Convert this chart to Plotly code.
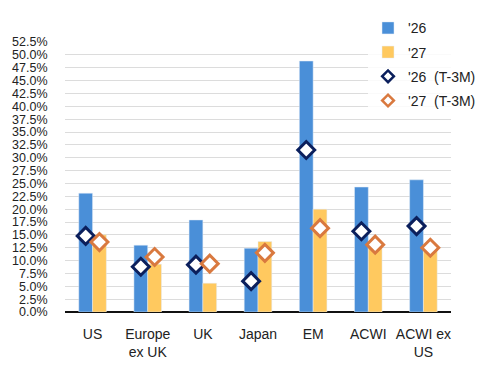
import plotly.graph_objects as go

categories = ["US", "Europe<br>ex UK", "UK", "Japan", "EM", "ACWI", "ACWI ex<br>US"]
v26 = [23.1, 13.0, 17.9, 12.4, 48.8, 24.3, 25.7]
v27 = [15.0, 9.3, 5.6, 13.7, 20.0, 13.3, 12.6]
v26_t3m = [14.8, 8.8, 9.2, 6.0, 31.5, 15.7, 16.7]
v27_t3m = [13.6, 10.7, 9.4, 11.5, 16.3, 13.1, 12.5]
names = ["'26", "'27", "'26  (T-3M)", "'27  (T-3M)"]
ytick_vals = [i * 2.5 for i in range(22)]
ytick_text = [f"{v:.1f}%" for v in ytick_vals]

BLUE = "#4a8fd8"
YELLOW = "#ffc95f"
NAVY = "#0b1f5c"
ORANGE = "#d9793f"
FONT = "Liberation Sans"

fig = go.Figure()
fig.add_trace(go.Bar(x=categories, y=v26, name=names[0], marker_color=BLUE,
                     offsetgroup="a", legendgroup="g1"))
fig.add_trace(go.Bar(x=categories, y=v27, name=names[1], marker_color=YELLOW,
                     offsetgroup="b", legendgroup="g2"))
fig.add_trace(go.Scatter(x=categories, y=v26_t3m, name=names[2], mode="markers",
                         offsetgroup="a", legendgroup="g3", showlegend=False,
                         marker=dict(symbol="diamond", size=13, color="white",
                                     line=dict(color=NAVY, width=3))))
fig.add_trace(go.Scatter(x=categories, y=v27_t3m, name=names[3], mode="markers",
                         offsetgroup="b", legendgroup="g4", showlegend=False,
                         marker=dict(symbol="diamond", size=13, color="white",
                                     line=dict(color=ORANGE, width=3))))
# legend entries with smaller symbols, as in the reference legend
for nm, col, grp in [(names[2], NAVY, "g3"), (names[3], ORANGE, "g4")]:
    fig.add_trace(go.Scatter(x=[None], y=[None], name=nm, mode="markers",
                             legendgroup=grp, showlegend=True,
                             marker=dict(symbol="diamond", size=9, color="white",
                                         line=dict(color=col, width=2.5))))

fig.update_layout(
    width=493, height=378,
    margin=dict(l=59, r=14, t=34, b=66),
    paper_bgcolor="white", plot_bgcolor="white",
    font=dict(family=FONT, size=13, color="#222222"),
    barmode="group", bargap=0.5, bargroupgap=0,
    scattermode="group", scattergap=0.5,
    showlegend=True,
    legend=dict(x=0.785, y=1.11, xanchor="left", yanchor="top",
                bgcolor="rgba(255,255,255,0.85)", traceorder="grouped",
                tracegroupgap=3, font=dict(size=14, color="#222222"),
                itemwidth=30),
)
fig.update_xaxes(type="category", showgrid=False, showline=False,
                 tickfont=dict(size=14, color="#222222"),
                 ticks="outside", ticklen=9, tickcolor="rgba(0,0,0,0)")
fig.update_yaxes(range=[0, 52.5], tickmode="array", tickvals=ytick_vals,
                 ticktext=ytick_text, showgrid=True, gridcolor="#dcdcdc",
                 gridwidth=1, zeroline=True, zerolinecolor="#111111",
                 zerolinewidth=1.5, showline=False,
                 ticks="outside", ticklen=14, tickcolor="rgba(0,0,0,0)",
                 tickfont=dict(size=12.5, color="#222222"))

fig.write_html("out.html")
